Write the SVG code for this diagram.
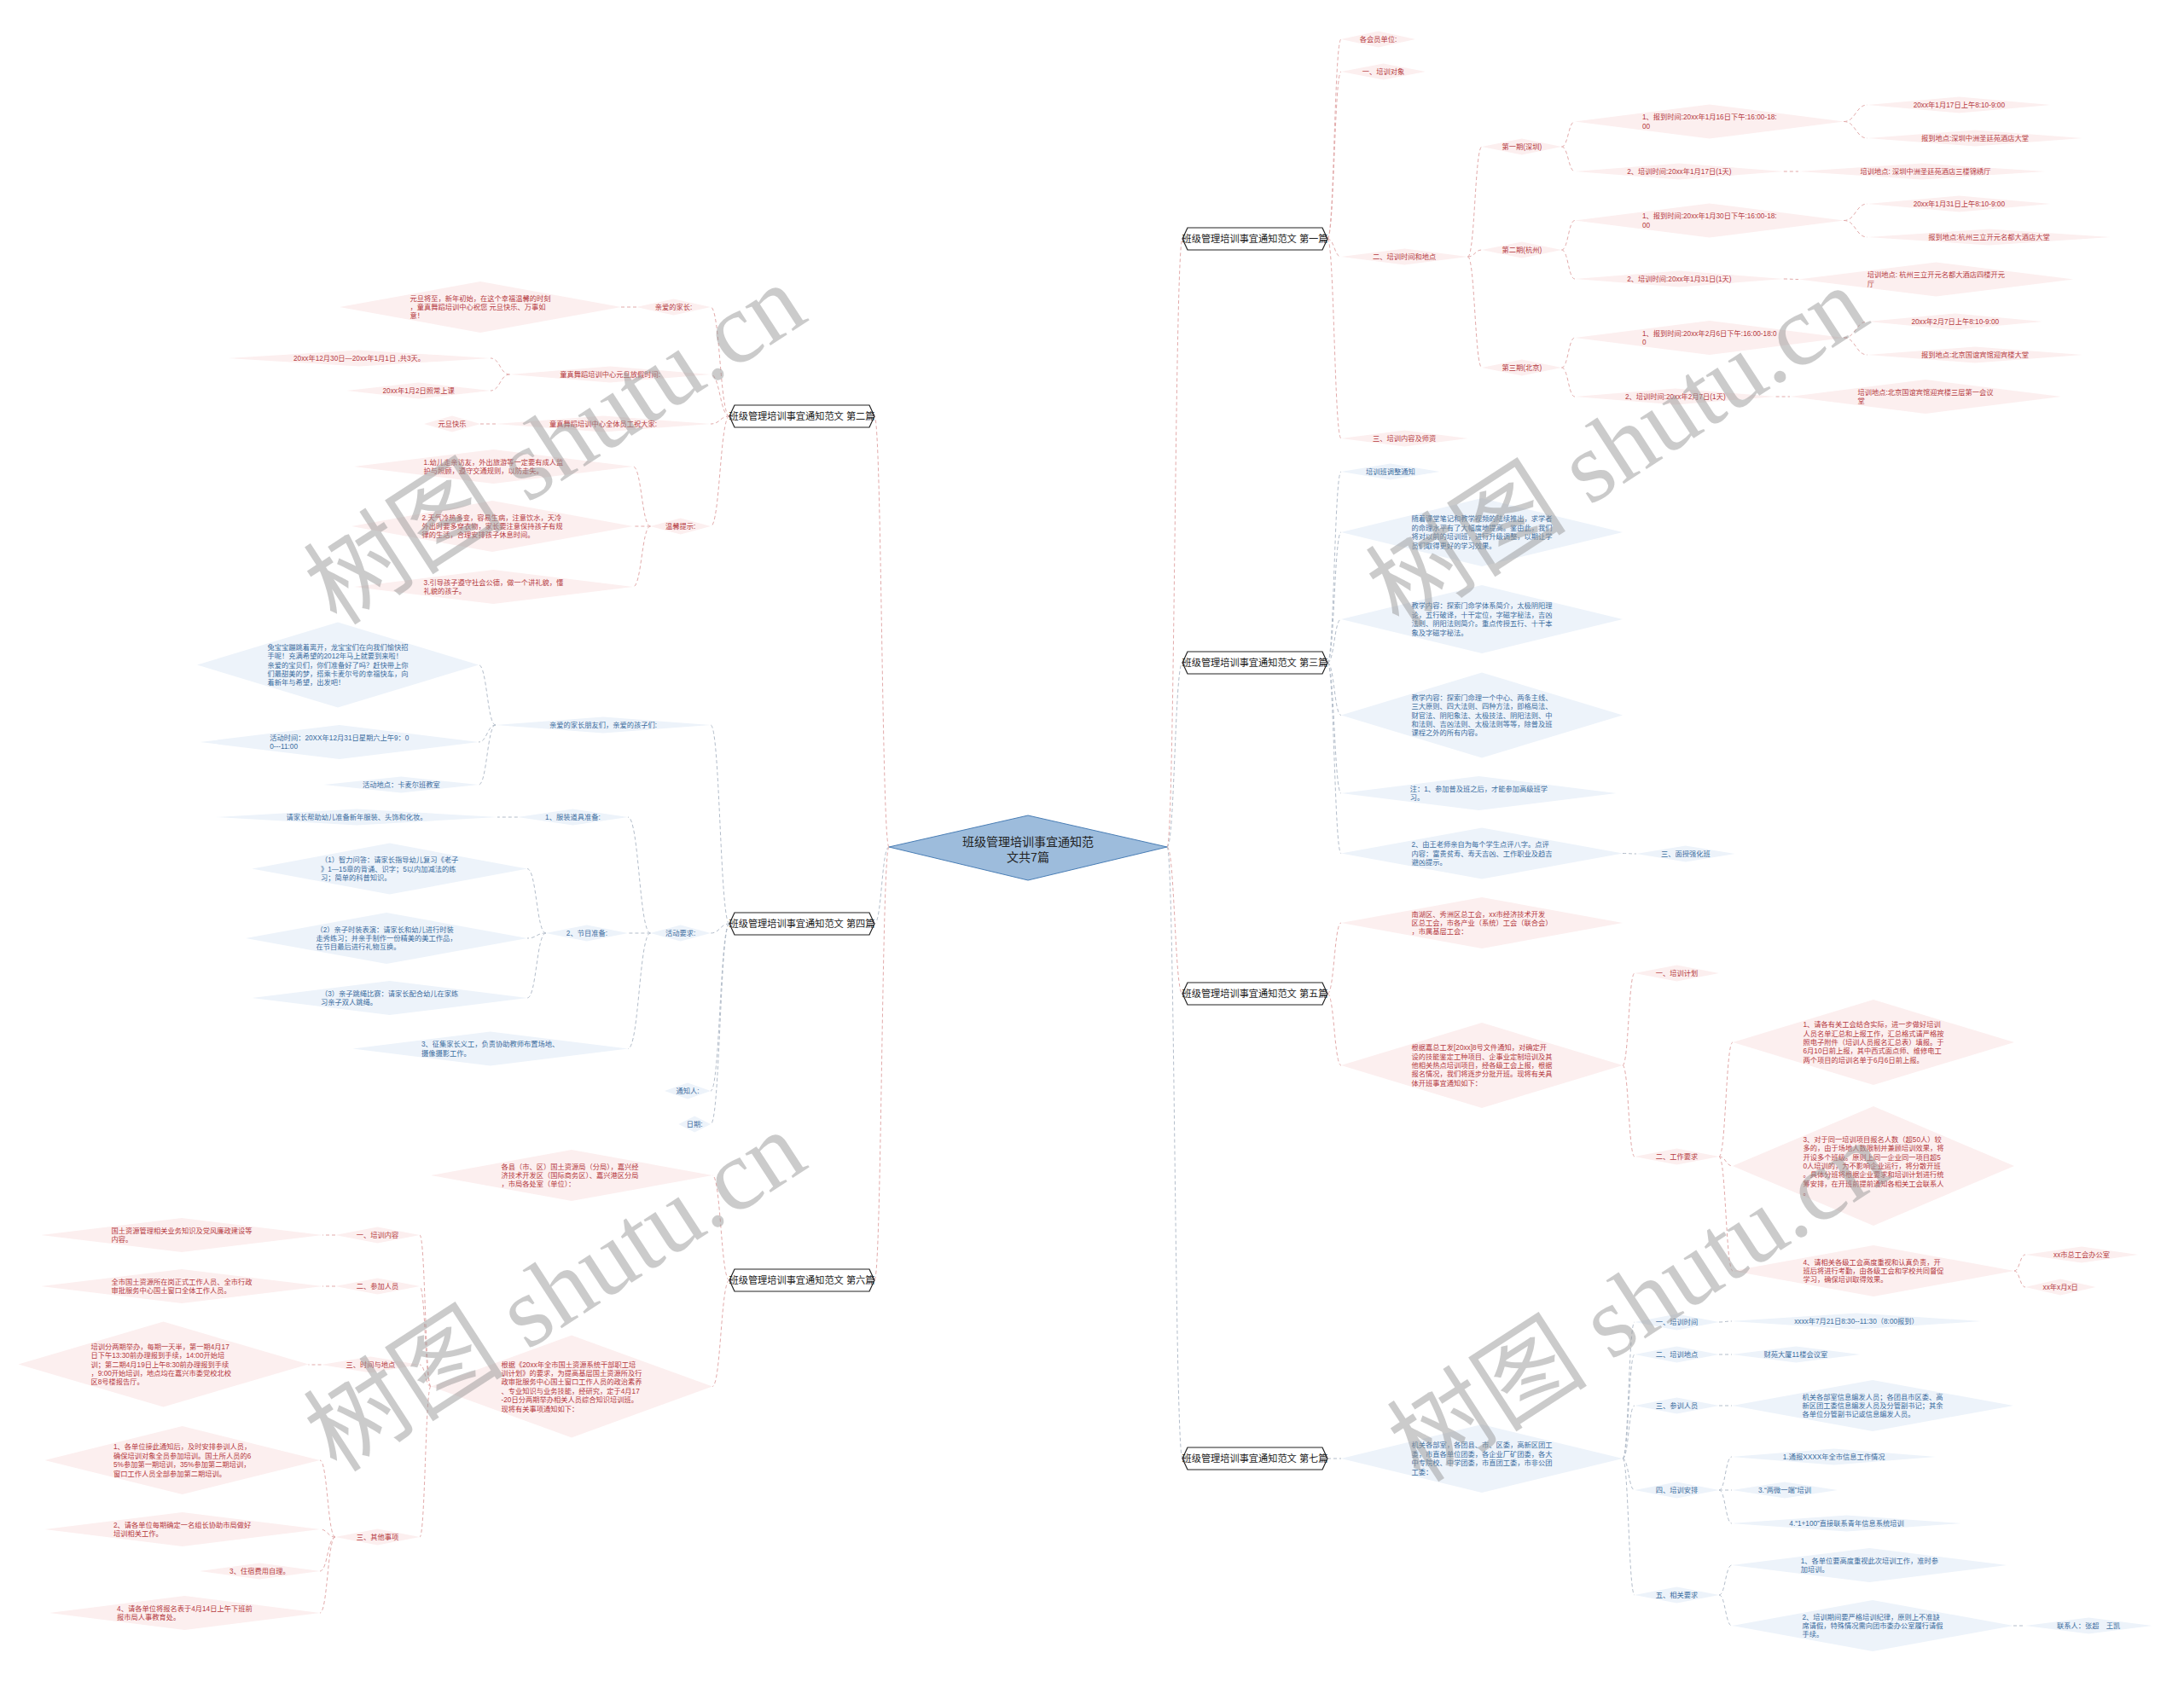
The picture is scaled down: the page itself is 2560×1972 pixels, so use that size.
<svg xmlns="http://www.w3.org/2000/svg" width="2560" height="1972" viewBox="0 0 2560 1972">
<style>
text{font-family:"Liberation Sans","Noto Sans CJK SC",sans-serif}
.n text{font-size:8.25px}
.r polygon{fill:#fcefef}
.b polygon{fill:#edf3fa}
.r text{fill:#b5393e}
.b text{fill:#3a6c9e}
.m polygon{fill:#fff;stroke:#222;stroke-width:1.2}
.m text{font-size:11.2px;fill:#222;text-anchor:middle}
.c polygon{fill:#9dbcdc;stroke:#4a7eb5;stroke-width:1}
.c text{font-size:14px;fill:#222;text-anchor:middle}
#connectors path{fill:none;stroke-width:1;stroke-dasharray:4 3}
#connectors .lr{stroke:#e2aaaa}
#connectors .lb{stroke:#b3bdca}
.wm{font-size:118px;fill:#999;opacity:.5;font-family:"Liberation Serif","Noto Sans CJK SC",serif}
</style>
<rect width="2560" height="1972" fill="#fff"/>
<g id="connectors">
<path class="lr" d="M1368 993C1377 993 1377 280 1386 280"/>
<path class="lb" d="M1368 993C1377 993 1377 777 1386 777"/>
<path class="lr" d="M1368 993C1377 993 1377 1165 1386 1165"/>
<path class="lb" d="M1368 993C1377 993 1377 1710 1386 1710"/>
<path class="lr" d="M1042 993C1033.5 993 1033.5 488 1025 488"/>
<path class="lb" d="M1042 993C1033.5 993 1033.5 1083 1025 1083"/>
<path class="lr" d="M1042 993C1033.5 993 1033.5 1501 1025 1501"/>
<path class="lr" d="M1556 280C1564 280 1564 46 1572 46"/>
<path class="lr" d="M1556 280C1564 280 1564 84 1572 84"/>
<path class="lr" d="M1556 280C1564 280 1564 301 1572 301"/>
<path class="lr" d="M1556 280C1564 280 1564 514 1572 514"/>
<path class="lr" d="M1720.5 301C1728.8 301 1728.8 172 1737 172"/>
<path class="lr" d="M1720.5 301C1728.8 301 1728.8 293 1737 293"/>
<path class="lr" d="M1720.5 301C1728.8 301 1728.8 431 1737 431"/>
<path class="lr" d="M1830.5 172C1838.3 172 1838.3 142.5 1846 142.5"/>
<path class="lr" d="M1830.5 172C1838.3 172 1838.3 201 1846 201"/>
<path class="lr" d="M1830.5 293C1838.3 293 1838.3 258.5 1846 258.5"/>
<path class="lr" d="M1830.5 293C1838.3 293 1838.3 327 1846 327"/>
<path class="lr" d="M1830.5 431C1838.3 431 1838.3 396 1846 396"/>
<path class="lr" d="M1830.5 431C1838.3 431 1838.3 465 1846 465"/>
<path class="lr" d="M2161.4 142.5C2175.2 142.5 2175.2 123 2189 123"/>
<path class="lr" d="M2161.4 142.5C2175.2 142.5 2175.2 162 2189 162"/>
<path class="lr" d="M2090.8 201H2108"/>
<path class="lr" d="M2161.4 258.5C2175.2 258.5 2175.2 239 2189 239"/>
<path class="lr" d="M2161.4 258.5C2175.2 258.5 2175.2 278 2189 278"/>
<path class="lr" d="M2090.8 327C2099.4 327 2099.4 327.5 2108 327.5"/>
<path class="lr" d="M2161.4 396C2175.2 396 2175.2 377 2189 377"/>
<path class="lr" d="M2161.4 396C2175.2 396 2175.2 416 2189 416"/>
<path class="lr" d="M2081.6 465H2098"/>
<path class="lb" d="M1556 777C1564 777 1564 553 1572 553"/>
<path class="lb" d="M1556 777C1564 777 1564 624 1572 624"/>
<path class="lb" d="M1556 777C1564 777 1564 726 1572 726"/>
<path class="lb" d="M1556 777C1564 777 1564 838.5 1572 838.5"/>
<path class="lb" d="M1556 777C1564 777 1564 930 1572 930"/>
<path class="lb" d="M1556 777C1564 777 1564 1000.5 1572 1000.5"/>
<path class="lb" d="M1902 1000.5C1910 1000.5 1910 1001 1918 1001"/>
<path class="lr" d="M1556 1165C1564 1165 1564 1082 1572 1082"/>
<path class="lr" d="M1556 1165C1564 1165 1564 1249 1572 1249"/>
<path class="lr" d="M1902 1249C1909 1249 1909 1141 1916 1141"/>
<path class="lr" d="M1902 1249C1909 1249 1909 1356 1916 1356"/>
<path class="lr" d="M2015 1356C2023 1356 2023 1222 2031 1222"/>
<path class="lr" d="M2015 1356C2023 1356 2023 1367 2031 1367"/>
<path class="lr" d="M2015 1356C2023 1356 2023 1490 2031 1490"/>
<path class="lr" d="M2361 1490C2367.5 1490 2367.5 1471 2374 1471"/>
<path class="lr" d="M2361 1490C2367.5 1490 2367.5 1509 2374 1509"/>
<path class="lb" d="M1556 1710H1572"/>
<path class="lb" d="M1902 1710C1909 1710 1909 1550 1916 1550"/>
<path class="lb" d="M1902 1710C1909 1710 1909 1588 1916 1588"/>
<path class="lb" d="M1902 1710C1909 1710 1909 1648 1916 1648"/>
<path class="lb" d="M1902 1710C1909 1710 1909 1747 1916 1747"/>
<path class="lb" d="M1902 1710C1909 1710 1909 1870 1916 1870"/>
<path class="lb" d="M2015 1550C2022.5 1550 2022.5 1549 2030 1549"/>
<path class="lb" d="M2015 1588H2030"/>
<path class="lb" d="M2015 1648H2030"/>
<path class="lb" d="M2015 1747C2022.5 1747 2022.5 1708 2030 1708"/>
<path class="lb" d="M2015 1747H2030"/>
<path class="lb" d="M2015 1747C2022.5 1747 2022.5 1786 2030 1786"/>
<path class="lb" d="M2015 1870C2022.5 1870 2022.5 1835 2030 1835"/>
<path class="lb" d="M2015 1870C2022.5 1870 2022.5 1906 2030 1906"/>
<path class="lb" d="M2360 1906H2374"/>
<path class="lr" d="M855 488C844 488 844 360 833 360"/>
<path class="lr" d="M855 488C844 488 844 439 833 439"/>
<path class="lr" d="M855 488C844 488 844 497 833 497"/>
<path class="lr" d="M855 488C844 488 844 617 833 617"/>
<path class="lr" d="M746 360H728"/>
<path class="lr" d="M597.4 439C586.2 439 586.2 420 575 420"/>
<path class="lr" d="M597.4 439C586.2 439 586.2 458 575 458"/>
<path class="lr" d="M581 497H563"/>
<path class="lr" d="M762.4 617C752.2 617 752.2 547 742 547"/>
<path class="lr" d="M762.4 617H742"/>
<path class="lr" d="M762.4 617C752.2 617 752.2 688 742 688"/>
<path class="lb" d="M855 1083C844 1083 844 850 833 850"/>
<path class="lb" d="M855 1083C844 1083 844 1094 833 1094"/>
<path class="lb" d="M855 1083C844 1083 844 1279 833 1279"/>
<path class="lb" d="M855 1083C844 1083 844 1318 833 1318"/>
<path class="lb" d="M581 850C571 850 571 779.5 561 779.5"/>
<path class="lb" d="M581 850C571 850 571 870 561 870"/>
<path class="lb" d="M581 850C571 850 571 920 561 920"/>
<path class="lb" d="M762.4 1094C749.2 1094 749.2 958 736 958"/>
<path class="lb" d="M762.4 1094H736"/>
<path class="lb" d="M762.4 1094C749.2 1094 749.2 1229.5 736 1229.5"/>
<path class="lb" d="M606.8 958H583"/>
<path class="lb" d="M639.8 1094C628.9 1094 628.9 1018.6 618 1018.6"/>
<path class="lb" d="M639.8 1094C628.9 1094 628.9 1100 618 1100"/>
<path class="lb" d="M639.8 1094C628.9 1094 628.9 1170 618 1170"/>
<path class="lr" d="M855 1501C845 1501 845 1378 835 1378"/>
<path class="lr" d="M855 1501C845 1501 845 1625.5 835 1625.5"/>
<path class="lr" d="M505 1625.5C498.5 1625.5 498.5 1448 492 1448"/>
<path class="lr" d="M505 1625.5C498.5 1625.5 498.5 1508 492 1508"/>
<path class="lr" d="M505 1625.5C498.5 1625.5 498.5 1600 492 1600"/>
<path class="lr" d="M505 1625.5C498.5 1625.5 498.5 1802 492 1802"/>
<path class="lr" d="M393 1448H378"/>
<path class="lr" d="M393 1508H378"/>
<path class="lr" d="M376.5 1600H361.5"/>
<path class="lr" d="M393 1802C384 1802 384 1712 375 1712"/>
<path class="lr" d="M393 1802C384 1802 384 1793 375 1793"/>
<path class="lr" d="M393 1802C384 1802 384 1842 375 1842"/>
<path class="lr" d="M393 1802C384 1802 384 1891 375 1891"/>
</g>

<g id="center" class="c"><polygon points="1042,993 1205,956 1368,993 1205,1032"/><text x="1205" y="992">班级管理培训事宜通知范<tspan x="1205" dy="18">文共7篇</tspan></text></g>

<g id="main1" class="m"><polygon points="1386,280 1392,267 1550,267 1556,280 1550,293 1392,293"/><text x="1471" y="284">班级管理培训事宜通知范文 第一篇</text></g>
<g id="main3" class="m"><polygon points="1386,777 1392,764 1550,764 1556,777 1550,790 1392,790"/><text x="1471" y="781">班级管理培训事宜通知范文 第三篇</text></g>
<g id="main5" class="m"><polygon points="1386,1165 1392,1152 1550,1152 1556,1165 1550,1178 1392,1178"/><text x="1471" y="1169">班级管理培训事宜通知范文 第五篇</text></g>
<g id="main7" class="m"><polygon points="1386,1710 1392,1697 1550,1697 1556,1710 1550,1723 1392,1723"/><text x="1471" y="1714">班级管理培训事宜通知范文 第七篇</text></g>
<g id="main2" class="m"><polygon points="855,488 861,475 1019,475 1025,488 1019,501 861,501"/><text x="940" y="492">班级管理培训事宜通知范文 第二篇</text></g>
<g id="main4" class="m"><polygon points="855,1083 861,1070 1019,1070 1025,1083 1019,1096 861,1096"/><text x="940" y="1087">班级管理培训事宜通知范文 第四篇</text></g>
<g id="main6" class="m"><polygon points="855,1501 861,1488 1019,1488 1025,1501 1019,1514 861,1514"/><text x="940" y="1505">班级管理培训事宜通知范文 第六篇</text></g>

<g id="a1" class="n r"><polygon points="1572,46 1615.5,36.5 1659,46 1615.5,55.5"/><text x="1593.8" y="49">各会员单位:</text></g>
<g id="a2" class="n r"><polygon points="1572,84 1621.5,74.5 1671,84 1621.5,93.5"/><text x="1596.8" y="87">一、培训对象</text></g>
<g id="a3" class="n r"><polygon points="1572,301 1646.3,291.5 1720.5,301 1646.3,310.5"/><text x="1609.1" y="304">二、培训时间和地点</text></g>
<g id="a4" class="n r"><polygon points="1572,514 1646.3,504.5 1720.5,514 1646.3,523.5"/><text x="1609.1" y="517">三、培训内容及师资</text></g>
<g id="b1" class="n r"><polygon points="1737,172 1783.8,162.5 1830.5,172 1783.8,181.5"/><text x="1760.4" y="175">第一期(深圳)</text></g>
<g id="b2" class="n r"><polygon points="1737,293 1783.8,283.5 1830.5,293 1783.8,302.5"/><text x="1760.4" y="296">第二期(杭州)</text></g>
<g id="b3" class="n r"><polygon points="1737,431 1783.8,421.5 1830.5,431 1783.8,440.5"/><text x="1760.4" y="434">第三期(北京)</text></g>
<g id="c1" class="n r"><polygon points="1846,142.5 2003.7,122.5 2161.4,142.5 2003.7,162.5"/><text x="1924.9" y="140.3">1、报到时间:20xx年1月16日下午:16:00-18:<tspan x="1924.9" dy="10.4">00</tspan></text></g>
<g id="c2" class="n r"><polygon points="1846,201 1968.4,191.5 2090.8,201 1968.4,210.5"/><text x="1907.2" y="204">2、培训时间:20xx年1月17日(1天)</text></g>
<g id="c3" class="n r"><polygon points="1846,258.5 2003.7,238.5 2161.4,258.5 2003.7,278.5"/><text x="1924.9" y="256.3">1、报到时间:20xx年1月30日下午:16:00-18:<tspan x="1924.9" dy="10.4">00</tspan></text></g>
<g id="c4" class="n r"><polygon points="1846,327 1968.4,317.5 2090.8,327 1968.4,336.5"/><text x="1907.2" y="330">2、培训时间:20xx年1月31日(1天)</text></g>
<g id="c5" class="n r"><polygon points="1846,396 2003.7,376 2161.4,396 2003.7,416"/><text x="1924.9" y="393.8">1、报到时间:20xx年2月6日下午:16:00-18:0<tspan x="1924.9" dy="10.4">0</tspan></text></g>
<g id="c6" class="n r"><polygon points="1846,465 1963.8,455.5 2081.6,465 1963.8,474.5"/><text x="1904.9" y="468">2、培训时间:20xx年2月7日(1天)</text></g>
<g id="d1" class="n r"><polygon points="2189,123 2296.3,113.5 2403.6,123 2296.3,132.5"/><text x="2242.7" y="126">20xx年1月17日上午8:10-9:00</text></g>
<g id="d2" class="n r"><polygon points="2189,162 2315,152.5 2441,162 2315,171.5"/><text x="2252" y="165">报到地点:深圳中洲圣廷苑酒店大堂</text></g>
<g id="d3" class="n r"><polygon points="2108,201 2252.8,191.5 2397.6,201 2252.8,210.5"/><text x="2180.4" y="204">培训地点: 深圳中洲圣廷苑酒店三楼锦绣厅</text></g>
<g id="d4" class="n r"><polygon points="2189,239 2296.3,229.5 2403.6,239 2296.3,248.5"/><text x="2242.7" y="242">20xx年1月31日上午8:10-9:00</text></g>
<g id="d5" class="n r"><polygon points="2189,278 2331.5,268.5 2474,278 2331.5,287.5"/><text x="2260.3" y="281">报到地点:杭州三立开元名都大酒店大堂</text></g>
<g id="d6" class="n r"><polygon points="2108,327.5 2269.3,307.5 2430.6,327.5 2269.3,347.5"/><text x="2188.7" y="325.3">培训地点: 杭州三立开元名都大酒店四楼开元<tspan x="2188.7" dy="10.4">厅</tspan></text></g>
<g id="d7" class="n r"><polygon points="2189,377 2291.7,367.5 2394.4,377 2291.7,386.5"/><text x="2240.4" y="380">20xx年2月7日上午8:10-9:00</text></g>
<g id="d8" class="n r"><polygon points="2189,416 2315,406.5 2441,416 2315,425.5"/><text x="2252" y="419">报到地点:北京国谊宾馆迎宾楼大堂</text></g>
<g id="d9" class="n r"><polygon points="2098,465 2257,445 2416,465 2257,485"/><text x="2177.5" y="462.8">培训地点:北京国谊宾馆迎宾楼三层第一会议<tspan x="2177.5" dy="10.4">堂</tspan></text></g>

<g id="e1" class="n b"><polygon points="1572,553 1629.8,543.5 1687.5,553 1629.8,562.5"/><text x="1600.9" y="556">培训班调整通知</text></g>
<g id="e2" class="n b"><polygon points="1572,624 1737,584 1902,624 1737,664"/><text x="1654.5" y="611.4">随着课堂笔记和教学视频的陆续推出，求学者<tspan x="1654.5" dy="10.4">的命理水平有了大幅度地提高。鉴由此，我们</tspan><tspan x="1654.5" dy="10.4">将对以前的培训班，进行升级调整，以期让学</tspan><tspan x="1654.5" dy="10.4">员们取得更好的学习效果。</tspan></text></g>
<g id="e3" class="n b"><polygon points="1572,726 1737,686 1902,726 1737,766"/><text x="1654.5" y="713.4">教学内容：探索门命学体系简介，太极阴阳理<tspan x="1654.5" dy="10.4">论，五行破译，十干定位，字磁字秘法，吉凶</tspan><tspan x="1654.5" dy="10.4">法则、阴阳法则简介。重点传授五行、十干本</tspan><tspan x="1654.5" dy="10.4">象及字磁字秘法。</tspan></text></g>
<g id="e4" class="n b"><polygon points="1572,838.5 1737,788.5 1902,838.5 1737,888.5"/><text x="1654.5" y="820.7">教学内容：探索门命理一个中心、两条主线、<tspan x="1654.5" dy="10.4">三大原则、四大法则、四种方法，即格局法、</tspan><tspan x="1654.5" dy="10.4">财官法、阴阳象法、太极技法、阴阳法则、中</tspan><tspan x="1654.5" dy="10.4">和法则、吉凶法则、太极法则等等，除普及班</tspan><tspan x="1654.5" dy="10.4">课程之外的所有内容。</tspan></text></g>
<g id="e5" class="n b"><polygon points="1572,930 1733.3,910 1894.6,930 1733.3,950"/><text x="1652.7" y="927.8">注：1、参加普及班之后，才能参加高级班学<tspan x="1652.7" dy="10.4">习。</tspan></text></g>
<g id="e6" class="n b"><polygon points="1572,1000.5 1737,970.5 1902,1000.5 1737,1030.5"/><text x="1654.5" y="993.1">2、由王老师亲自为每个学生点评八字。点评<tspan x="1654.5" dy="10.4">内容：富贵贫寿、寿夭吉凶、工作职业及趋吉</tspan><tspan x="1654.5" dy="10.4">避凶提示。</tspan></text></g>
<g id="e7" class="n b"><polygon points="1918,1001 1975.8,991.5 2033.5,1001 1975.8,1010.5"/><text x="1946.9" y="1004">三、面授强化班</text></g>

<g id="f1" class="n r"><polygon points="1572,1082 1737,1052 1902,1082 1737,1112"/><text x="1654.5" y="1074.6">南湖区、秀洲区总工会，xx市经济技术开发<tspan x="1654.5" dy="10.4">区总工会，市各产业（系统）工会（联合会）</tspan><tspan x="1654.5" dy="10.4">，市属基层工会：</tspan></text></g>
<g id="f2" class="n r"><polygon points="1572,1249 1737,1199 1902,1249 1737,1299"/><text x="1654.5" y="1231.2">根据嘉总工发[20xx]8号文件通知，对确定开<tspan x="1654.5" dy="10.4">设的技能鉴定工种项目、企事业定制培训及其</tspan><tspan x="1654.5" dy="10.4">他相关热点培训项目，经各级工会上报，根据</tspan><tspan x="1654.5" dy="10.4">报名情况，我们将逐步分批开班。现将有关具</tspan><tspan x="1654.5" dy="10.4">体开班事宜通知如下：</tspan></text></g>
<g id="g1" class="n r"><polygon points="1916,1141 1965.5,1131.5 2015,1141 1965.5,1150.5"/><text x="1940.8" y="1144">一、培训计划</text></g>
<g id="g2" class="n r"><polygon points="1916,1356 1965.5,1346.5 2015,1356 1965.5,1365.5"/><text x="1940.8" y="1359">二、工作要求</text></g>
<g id="h1" class="n r"><polygon points="2031,1222 2196,1172 2361,1222 2196,1272"/><text x="2113.5" y="1204.2">1、请各有关工会结合实际，进一步做好培训<tspan x="2113.5" dy="10.4">人员名单汇总和上报工作，汇总格式请严格按</tspan><tspan x="2113.5" dy="10.4">照电子附件（培训人员报名汇总表）填报。于</tspan><tspan x="2113.5" dy="10.4">6月10日前上报，其中西式面点师、维修电工</tspan><tspan x="2113.5" dy="10.4">两个项目的培训名单于6月6日前上报。</tspan></text></g>
<g id="h2" class="n r"><polygon points="2031,1367 2196,1297 2361,1367 2196,1437"/><text x="2113.5" y="1338.8">3、对于同一培训项目报名人数（超50人）较<tspan x="2113.5" dy="10.4">多的，由于场地人数限制并兼顾培训效果，将</tspan><tspan x="2113.5" dy="10.4">开设多个班级。原则上同一企业同一项目超5</tspan><tspan x="2113.5" dy="10.4">0人培训的，为不影响企业运行，将分散开班</tspan><tspan x="2113.5" dy="10.4">。具体分班将根据企业要求和培训计划进行统</tspan><tspan x="2113.5" dy="10.4">筹安排，在开班前提前通知各相关工会联系人</tspan><tspan x="2113.5" dy="10.4">。</tspan></text></g>
<g id="h3" class="n r"><polygon points="2031,1490 2196,1460 2361,1490 2196,1520"/><text x="2113.5" y="1482.6">4、请相关各级工会高度重视和认真负责，开<tspan x="2113.5" dy="10.4">班后将进行考勤，由各级工会和学校共同督促</tspan><tspan x="2113.5" dy="10.4">学习，确保培训取得效果。</tspan></text></g>
<g id="i1" class="n r"><polygon points="2374,1471 2440,1461.5 2506,1471 2440,1480.5"/><text x="2407" y="1474">xx市总工会办公室</text></g>
<g id="i2" class="n r"><polygon points="2374,1509 2415.3,1499.5 2456.5,1509 2415.3,1518.5"/><text x="2394.6" y="1512">xx年x月x日</text></g>

<g id="j1" class="n b"><polygon points="1572,1710 1737,1670 1902,1710 1737,1750"/><text x="1654.5" y="1697.4">机关各部室，各团县、市、区委，高新区团工<tspan x="1654.5" dy="10.4">委，市直各单位团委，各企业厂矿团委，各大</tspan><tspan x="1654.5" dy="10.4">中专院校、中学团委，市直团工委，市非公团</tspan><tspan x="1654.5" dy="10.4">工委：</tspan></text></g>
<g id="k1" class="n b"><polygon points="1916,1550 1965.5,1540.5 2015,1550 1965.5,1559.5"/><text x="1940.8" y="1553">一、培训时间</text></g>
<g id="k2" class="n b"><polygon points="1916,1588 1965.5,1578.5 2015,1588 1965.5,1597.5"/><text x="1940.8" y="1591">二、培训地点</text></g>
<g id="k3" class="n b"><polygon points="1916,1648 1965.5,1638.5 2015,1648 1965.5,1657.5"/><text x="1940.8" y="1651">三、参训人员</text></g>
<g id="k4" class="n b"><polygon points="1916,1747 1965.5,1737.5 2015,1747 1965.5,1756.5"/><text x="1940.8" y="1750">四、培训安排</text></g>
<g id="k5" class="n b"><polygon points="1916,1870 1965.5,1860.5 2015,1870 1965.5,1879.5"/><text x="1940.8" y="1873">五、相关要求</text></g>
<g id="l1" class="n b"><polygon points="2030,1549 2176.3,1539.5 2322.6,1549 2176.3,1558.5"/><text x="2103.2" y="1552">xxxx年7月21日8:30--11:30（8:00报到）</text></g>
<g id="l2" class="n b"><polygon points="2030,1588 2105.2,1578.5 2180.4,1588 2105.2,1597.5"/><text x="2067.6" y="1591">财苑大厦11楼会议室</text></g>
<g id="l3" class="n b"><polygon points="2030,1648 2195,1618 2360,1648 2195,1678"/><text x="2112.5" y="1640.6">机关各部室信息编发人员；各团县市区委、高<tspan x="2112.5" dy="10.4">新区团工委信息编发人员及分管副书记；其余</tspan><tspan x="2112.5" dy="10.4">各单位分管副书记或信息编发人员。</tspan></text></g>
<g id="l4" class="n b"><polygon points="2030,1708 2149.6,1698.5 2269.2,1708 2149.6,1717.5"/><text x="2089.8" y="1711">1.通报XXXX年全市信息工作情况</text></g>
<g id="l5" class="n b"><polygon points="2030,1747 2091.9,1737.5 2153.8,1747 2091.9,1756.5"/><text x="2061" y="1750">3.“两微一端”培训</text></g>
<g id="l6" class="n b"><polygon points="2030,1786 2164.5,1776.5 2299,1786 2164.5,1795.5"/><text x="2097.3" y="1789">4.“1+100”直接联系青年信息系统培训</text></g>
<g id="l7" class="n b"><polygon points="2030,1835 2191.3,1815 2352.6,1835 2191.3,1855"/><text x="2110.7" y="1832.8">1、各单位要高度重视此次培训工作，准时参<tspan x="2110.7" dy="10.4">加培训。</tspan></text></g>
<g id="l8" class="n b"><polygon points="2030,1906 2195,1876 2360,1906 2195,1936"/><text x="2112.5" y="1898.6">2、培训期间要严格培训纪律，原则上不准缺<tspan x="2112.5" dy="10.4">席请假，特殊情况需向团市委办公室履行请假</tspan><tspan x="2112.5" dy="10.4">手续。</tspan></text></g>
<g id="m1" class="n b"><polygon points="2374,1906 2448.3,1896.5 2522.5,1906 2448.3,1915.5"/><text x="2411.1" y="1909">联系人：张超　王凯</text></g>

<g id="n1" class="n r"><polygon points="746,360 789.5,350.5 833,360 789.5,369.5"/><text x="767.8" y="363">亲爱的家长:</text></g>
<g id="n2" class="n r"><polygon points="597.4,439 715.2,429.5 833,439 715.2,448.5"/><text x="656.3" y="442">童真舞蹈培训中心元旦放假时间:</text></g>
<g id="n3" class="n r"><polygon points="581,497 707,487.5 833,497 707,506.5"/><text x="644" y="500">童真舞蹈培训中心全体员工祝大家:</text></g>
<g id="n4" class="n r"><polygon points="762.4,617 797.7,607.5 833,617 797.7,626.5"/><text x="780" y="620">温馨提示:</text></g>
<g id="o1" class="n r"><polygon points="398,360 563,330 728,360 563,390"/><text x="480.5" y="352.6">元旦将至，新年初始，在这个幸福温馨的时刻<tspan x="480.5" dy="10.4">，童真舞蹈培训中心祝您 元旦快乐、万事如</tspan><tspan x="480.5" dy="10.4">意！</tspan></text></g>
<g id="o2" class="n r"><polygon points="267,420 421,410.5 575,420 421,429.5"/><text x="344" y="423">20xx年12月30日—20xx年1月1日 ,共3天。</text></g>
<g id="o3" class="n r"><polygon points="406.4,458 490.7,448.5 575,458 490.7,467.5"/><text x="448.5" y="461">20xx年1月2日照常上课</text></g>
<g id="o4" class="n r"><polygon points="497,497 530,487.5 563,497 530,506.5"/><text x="513.5" y="500">元旦快乐</text></g>
<g id="o5" class="n r"><polygon points="414.8,547 578.4,527 742,547 578.4,567"/><text x="496.6" y="544.8">1.幼儿走亲访友，外出旅游等一定要有成人监<tspan x="496.6" dy="10.4">护与照顾，遵守交通规则，以防走失。</tspan></text></g>
<g id="o6" class="n r"><polygon points="412,617 577,587 742,617 577,647"/><text x="494.5" y="609.6">2.天气冷热多变，容易生病，注意饮水，天冷<tspan x="494.5" dy="10.4">外出时要多穿衣物，家长要注意保持孩子有规</tspan><tspan x="494.5" dy="10.4">律的生活，合理安排孩子休息时间。</tspan></text></g>
<g id="o7" class="n r"><polygon points="414.8,688 578.4,668 742,688 578.4,708"/><text x="496.6" y="685.8">3.引导孩子遵守社会公德，做一个讲礼貌，懂<tspan x="496.6" dy="10.4">礼貌的孩子。</tspan></text></g>

<g id="p1" class="n b"><polygon points="581,850 707,840.5 833,850 707,859.5"/><text x="644" y="853">亲爱的家长朋友们，亲爱的孩子们:</text></g>
<g id="p2" class="n b"><polygon points="762.4,1094 797.7,1084.5 833,1094 797.7,1103.5"/><text x="780" y="1097">活动要求:</text></g>
<g id="p3" class="n b"><polygon points="779,1279 806,1269.5 833,1279 806,1288.5"/><text x="792.5" y="1282">通知人:</text></g>
<g id="p4" class="n b"><polygon points="795.4,1318 814.2,1308.5 833,1318 814.2,1327.5"/><text x="804.8" y="1321">日期:</text></g>
<g id="q1" class="n b"><polygon points="231,779.5 396,729.5 561,779.5 396,829.5"/><text x="313.5" y="761.7">兔宝宝蹦跳着离开，龙宝宝们在向我们愉快招<tspan x="313.5" dy="10.4">手呢！充满希望的2012年马上就要到来啦！</tspan><tspan x="313.5" dy="10.4">亲爱的宝贝们，你们准备好了吗？赶快带上你</tspan><tspan x="313.5" dy="10.4">们最甜美的梦，搭乘卡麦尔号的幸福快车，向</tspan><tspan x="313.5" dy="10.4">着新年与希望，出发吧！</tspan></text></g>
<g id="q2" class="n b"><polygon points="234.6,870 397.8,850 561,870 397.8,890"/><text x="316.2" y="867.8">活动时间：20XX年12月31日星期六上午9：0<tspan x="316.2" dy="10.4">0---11:00</tspan></text></g>
<g id="q3" class="n b"><polygon points="379.5,920 470.3,910.5 561,920 470.3,929.5"/><text x="425" y="923">活动地点：卡麦尔班教室</text></g>
<g id="r1" class="n b"><polygon points="606.8,958 671.4,948.5 736,958 671.4,967.5"/><text x="639.1" y="961">1、服装道具准备:</text></g>
<g id="r2" class="n b"><polygon points="639.8,1094 687.9,1084.5 736,1094 687.9,1103.5"/><text x="663.8" y="1097">2、节目准备:</text></g>
<g id="r3" class="n b"><polygon points="413.4,1229.5 574.7,1209.5 736,1229.5 574.7,1249.5"/><text x="494" y="1227.3">3、征集家长义工，负责协助教师布置场地、<tspan x="494" dy="10.4">摄像摄影工作。</tspan></text></g>
<g id="s1" class="n b"><polygon points="253,958 418,948.5 583,958 418,967.5"/><text x="335.5" y="961">请家长帮助幼儿准备新年服装、头饰和化妆。</text></g>
<g id="s2" class="n b"><polygon points="295.4,1018.6 456.7,988.6 618,1018.6 456.7,1048.6"/><text x="376" y="1011.2">（1）智力问答：请家长指导幼儿复习《老子<tspan x="376" dy="10.4">》1—15章的背诵、识字；5以内加减法的练</tspan><tspan x="376" dy="10.4">习；简单的科普知识。</tspan></text></g>
<g id="s3" class="n b"><polygon points="288,1100 453,1070 618,1100 453,1130"/><text x="370.5" y="1092.6">（2）亲子时装表演：请家长和幼儿进行时装<tspan x="370.5" dy="10.4">走秀练习；并亲手制作一份精美的美工作品，</tspan><tspan x="370.5" dy="10.4">在节目最后进行礼物互换。</tspan></text></g>
<g id="s4" class="n b"><polygon points="295.4,1170 456.7,1150 618,1170 456.7,1190"/><text x="376" y="1167.8">（3）亲子跳绳比赛：请家长配合幼儿在家练<tspan x="376" dy="10.4">习亲子双人跳绳。</tspan></text></g>

<g id="t1" class="n r"><polygon points="505,1378 670,1348 835,1378 670,1408"/><text x="587.5" y="1370.6">各县（市、区）国土资源局（分局），嘉兴经<tspan x="587.5" dy="10.4">济技术开发区（国际商务区）、嘉兴港区分局</tspan><tspan x="587.5" dy="10.4">，市局各处室（单位）：</tspan></text></g>
<g id="t2" class="n r"><polygon points="505,1625.5 670,1565.5 835,1625.5 670,1685.5"/><text x="587.5" y="1602.5">根据《20xx年全市国土资源系统干部职工培<tspan x="587.5" dy="10.4">训计划》的要求，为提高基层国土资源所及行</tspan><tspan x="587.5" dy="10.4">政审批服务中心国土窗口工作人员的政治素养</tspan><tspan x="587.5" dy="10.4">、专业知识与业务技能，经研究，定于4月17</tspan><tspan x="587.5" dy="10.4">-20日分两期举办相关人员综合知识培训班。</tspan><tspan x="587.5" dy="10.4">现将有关事项通知如下：</tspan></text></g>
<g id="u1" class="n r"><polygon points="393,1448 442.5,1438.5 492,1448 442.5,1457.5"/><text x="417.8" y="1451">一、培训内容</text></g>
<g id="u2" class="n r"><polygon points="393,1508 442.5,1498.5 492,1508 442.5,1517.5"/><text x="417.8" y="1511">二、参加人员</text></g>
<g id="u3" class="n r"><polygon points="376.5,1600 434.3,1590.5 492,1600 434.3,1609.5"/><text x="405.4" y="1603">三、时间与地点</text></g>
<g id="u4" class="n r"><polygon points="393,1802 442.5,1792.5 492,1802 442.5,1811.5"/><text x="417.8" y="1805">三、其他事项</text></g>
<g id="v1" class="n r"><polygon points="48,1448 213,1428 378,1448 213,1468"/><text x="130.5" y="1445.8">国土资源管理相关业务知识及党风廉政建设等<tspan x="130.5" dy="10.4">内容。</tspan></text></g>
<g id="v2" class="n r"><polygon points="48,1508 213,1488 378,1508 213,1528"/><text x="130.5" y="1505.8">全市国土资源所在岗正式工作人员、全市行政<tspan x="130.5" dy="10.4">审批服务中心国土窗口全体工作人员。</tspan></text></g>
<g id="v3" class="n r"><polygon points="21.5,1599.5 191.5,1549.5 361.5,1599.5 191.5,1649.5"/><text x="106.5" y="1581.7">培训分两期举办，每期一天半，第一期4月17<tspan x="106.5" dy="10.4">日下午13:30前办理报到手续，14:00开始培</tspan><tspan x="106.5" dy="10.4">训；第二期4月19日上午8:30前办理报到手续</tspan><tspan x="106.5" dy="10.4">，9:00开始培训，地点均在嘉兴市委党校北校</tspan><tspan x="106.5" dy="10.4">区8号楼报告厅。</tspan></text></g>
<g id="v4" class="n r"><polygon points="52.4,1712 213.7,1672 375,1712 213.7,1752"/><text x="133" y="1699.4">1、各单位接此通知后，及时安排参训人员，<tspan x="133" dy="10.4">确保培训对象全员参加培训。国土所人员的6</tspan><tspan x="133" dy="10.4">5%参加第一期培训，35%参加第二期培训，</tspan><tspan x="133" dy="10.4">窗口工作人员全部参加第二期培训。</tspan></text></g>
<g id="v5" class="n r"><polygon points="52.4,1793 213.7,1773 375,1793 213.7,1813"/><text x="133" y="1790.8">2、请各单位每期确定一名组长协助市局做好<tspan x="133" dy="10.4">培训相关工作。</tspan></text></g>
<g id="v6" class="n r"><polygon points="233.8,1842 304.4,1832.5 375,1842 304.4,1851.5"/><text x="269.1" y="1845">3、住宿费用自理。</text></g>
<g id="v7" class="n r"><polygon points="57.8,1891 216.4,1871 375,1891 216.4,1911"/><text x="137.1" y="1888.8">4、请各单位将报名表于4月14日上午下班前<tspan x="137.1" dy="10.4">报市局人事教育处。</tspan></text></g>

<g id="watermarks">
<text class="wm" transform="translate(395,735) rotate(-33)">树图 shutu.cn</text>
<text class="wm" transform="translate(1640,738) rotate(-33)">树图 shutu.cn</text>
<text class="wm" transform="translate(395,1728) rotate(-33)">树图 shutu.cn</text>
<text class="wm" transform="translate(1665,1740) rotate(-33)">树图 shutu.cn</text>
</g>
</svg>
